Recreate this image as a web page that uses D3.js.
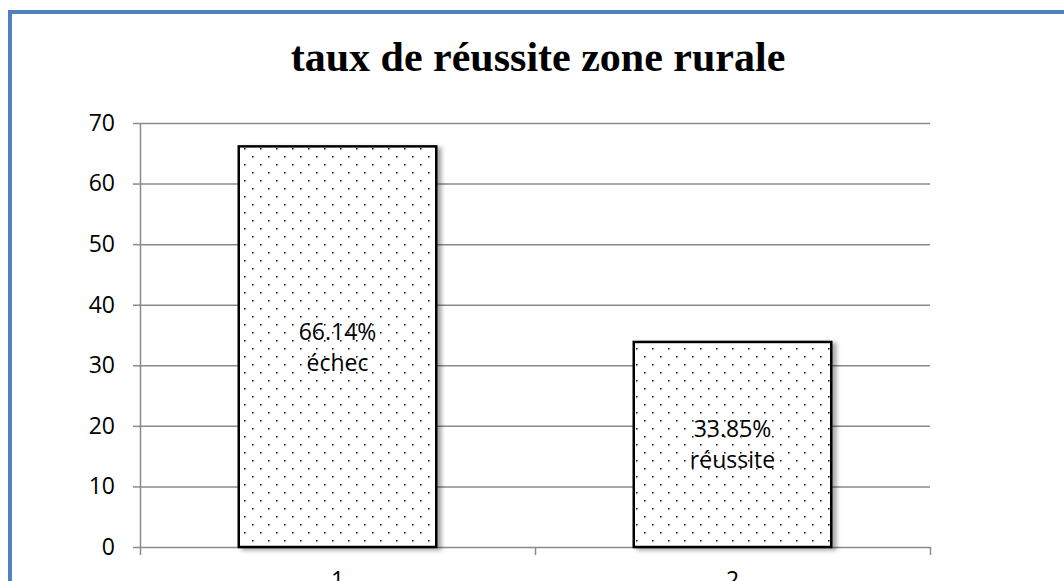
<!DOCTYPE html>
<html>
<head>
<meta charset="utf-8">
<script src="https://cdn.jsdelivr.net/npm/d3@7"></script>
<style>
  html, body { margin: 0; padding: 0; background: #fff; overflow: hidden; }
  svg { display: block; }
</style>
</head>
<body>
<svg id="chart" width="1064" height="581"></svg>
<script>
// chart data
const categories = ['1', '2'];
const values = [66.14, 33.85];
const percentLabels = ['66.14%', '33.85%'];
const nameLabels = ['échec', 'réussite'];
const yTicks = [0, 10, 20, 30, 40, 50, 60, 70];

const svg = d3.select('#chart');
const width = 1064;
const height = 581;

const plot = { left: 140, right: 930, top: 123, bottom: 547 };
const labelFont = '"Open Sans", "Noto Sans", sans-serif';

// dotted fill + shadow
const defs = svg.append('defs');
const pat = defs.append('pattern')
  .attr('id', 'dots')
  .attr('patternUnits', 'userSpaceOnUse')
  .attr('width', 16)
  .attr('height', 16);
pat.append('rect').attr('width', 16).attr('height', 16).attr('fill', '#fff');
pat.append('rect').attr('x', 4).attr('y', 4).attr('width', 1.6).attr('height', 1.6).attr('fill', '#222');
pat.append('rect').attr('x', 12).attr('y', 12).attr('width', 1.6).attr('height', 1.6).attr('fill', '#222');

defs.append('filter')
  .attr('id', 'shadow')
  .attr('x', '-10%').attr('y', '-10%').attr('width', '130%').attr('height', '130%')
  .append('feDropShadow')
  .attr('dx', 4).attr('dy', 2)
  .attr('stdDeviation', 2)
  .attr('flood-color', '#000')
  .attr('flood-opacity', 0.35);

// outer frame (runs off the right and bottom edge)
svg.append('rect')
  .attr('x', 10).attr('y', 12)
  .attr('width', width + 20).attr('height', height + 20)
  .attr('fill', '#fff')
  .attr('stroke', '#4f81bd')
  .attr('stroke-width', 4);

// title
svg.append('text')
  .attr('x', 538)
  .attr('y', 71)
  .attr('text-anchor', 'middle')
  .style('font-family', '"Liberation Serif", "Times New Roman", serif')
  .style('font-weight', 'bold')
  .style('font-size', '42px')
  .attr('fill', '#000')
  .text('taux de réussite zone rurale');

const x = d3.scaleBand()
  .domain(categories)
  .range([plot.left, plot.right])
  .paddingInner(0.5)
  .paddingOuter(0.25);

const y = d3.scaleLinear()
  .domain([0, 70])
  .range([plot.bottom, plot.top]);

// gridlines
svg.append('g')
  .attr('transform', `translate(${plot.left},0)`)
  .call(d3.axisLeft(y).tickValues(yTicks.slice(1)).tickSize(-(plot.right - plot.left)).tickFormat(''))
  .call(g => g.select('.domain').remove())
  .selectAll('line')
  .attr('stroke', '#8a8a8a')
  .attr('stroke-width', 1.5);

// y axis
const yAxis = svg.append('g')
  .attr('transform', `translate(${plot.left},0)`)
  .call(d3.axisLeft(y).tickValues(yTicks).tickSize(7).tickPadding(18).tickSizeOuter(0));
yAxis.select('.domain').attr('stroke', '#8a8a8a').attr('stroke-width', 1.5);
yAxis.selectAll('line').attr('stroke', '#8a8a8a').attr('stroke-width', 1.5);
yAxis.selectAll('text')
  .style('font-family', labelFont)
  .style('font-size', '23px')
  .attr('fill', '#000');

// x axis: boundary ticks between categories
const xEdges = d3.scaleLinear().domain([0, categories.length]).range([plot.left, plot.right]);
const xAxis = svg.append('g')
  .attr('transform', `translate(0,${plot.bottom})`)
  .call(d3.axisBottom(xEdges).ticks(categories.length).tickSize(8).tickSizeOuter(0).tickFormat(''));
xAxis.select('.domain').attr('stroke', '#8a8a8a').attr('stroke-width', 1.5);
xAxis.selectAll('line').attr('stroke', '#8a8a8a').attr('stroke-width', 1.5);

// category labels (cut by the lower edge, as in the source)
svg.append('g')
  .selectAll('text')
  .data(categories)
  .enter()
  .append('text')
  .attr('x', d => x(d) + x.bandwidth() / 2)
  .attr('y', 588)
  .attr('text-anchor', 'middle')
  .style('font-family', labelFont)
  .style('font-size', '23px')
  .attr('fill', '#000')
  .text(d => d);

// bars
svg.append('g')
  .selectAll('rect')
  .data(values)
  .enter()
  .append('rect')
  .attr('x', (d, i) => x(categories[i]))
  .attr('y', d => y(d))
  .attr('width', x.bandwidth())
  .attr('height', d => y(0) - y(d))
  .attr('fill', 'url(#dots)')
  .attr('stroke', '#000')
  .attr('stroke-width', 2.5)
  .attr('filter', 'url(#shadow)');

// data labels, two lines centred in each bar
const lbl = svg.append('g')
  .selectAll('text')
  .data(values)
  .enter()
  .append('text')
  .attr('text-anchor', 'middle')
  .style('font-family', labelFont)
  .style('font-size', '23px')
  .attr('fill', '#000');

lbl.append('tspan')
  .attr('x', (d, i) => x(categories[i]) + x.bandwidth() / 2)
  .attr('y', d => (y(d) + y(0)) / 2 - 7)
  .text((d, i) => percentLabels[i]);

lbl.append('tspan')
  .attr('x', (d, i) => x(categories[i]) + x.bandwidth() / 2)
  .attr('y', d => (y(d) + y(0)) / 2 + 24)
  .text((d, i) => nameLabels[i]);
</script>
</body>
</html>
